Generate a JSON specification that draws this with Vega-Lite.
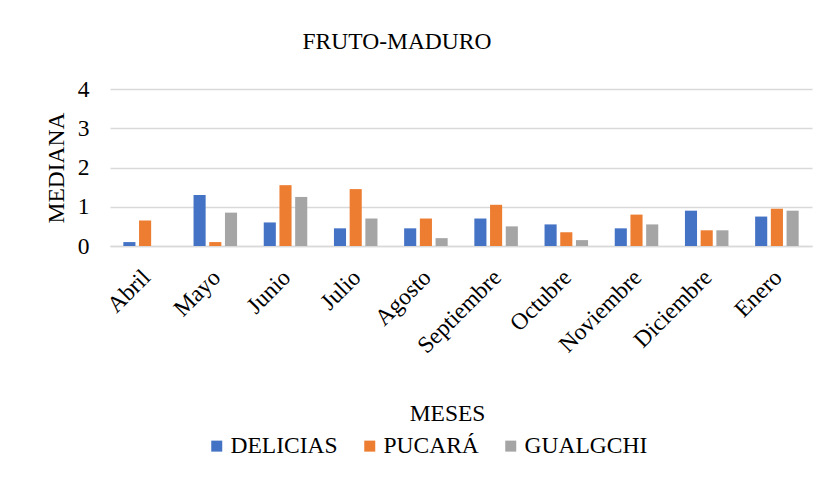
{
  "$schema": "https://vega.github.io/schema/vega-lite/v6.json",
  "autosize": {"type": "none"},
  "padding": {"left": 110, "top": 89, "right": 20, "bottom": 233},
  "width": 702,
  "height": 157,
  "background": "white",
  "title": {
    "text": "FRUTO-MADURO",
    "font": "Liberation Serif",
    "fontSize": 23.5,
    "fontWeight": "normal",
    "color": "#000000",
    "anchor": "middle",
    "frame": "group",
    "dx": -64,
    "baseline": "alphabetic",
    "offset": 5
  },
  "data": {
    "values": [
      {"Mes": "Abril", "Sitio": "DELICIAS", "Mediana": 0.1},
      {"Mes": "Abril", "Sitio": "PUCARÁ", "Mediana": 0.65},
      {"Mes": "Abril", "Sitio": "GUALGCHI", "Mediana": 0},
      {"Mes": "Mayo", "Sitio": "DELICIAS", "Mediana": 1.3},
      {"Mes": "Mayo", "Sitio": "PUCARÁ", "Mediana": 0.1},
      {"Mes": "Mayo", "Sitio": "GUALGCHI", "Mediana": 0.85},
      {"Mes": "Junio", "Sitio": "DELICIAS", "Mediana": 0.6},
      {"Mes": "Junio", "Sitio": "PUCARÁ", "Mediana": 1.55},
      {"Mes": "Junio", "Sitio": "GUALGCHI", "Mediana": 1.25},
      {"Mes": "Julio", "Sitio": "DELICIAS", "Mediana": 0.45},
      {"Mes": "Julio", "Sitio": "PUCARÁ", "Mediana": 1.45},
      {"Mes": "Julio", "Sitio": "GUALGCHI", "Mediana": 0.7},
      {"Mes": "Agosto", "Sitio": "DELICIAS", "Mediana": 0.45},
      {"Mes": "Agosto", "Sitio": "PUCARÁ", "Mediana": 0.7},
      {"Mes": "Agosto", "Sitio": "GUALGCHI", "Mediana": 0.2},
      {"Mes": "Septiembre", "Sitio": "DELICIAS", "Mediana": 0.7},
      {"Mes": "Septiembre", "Sitio": "PUCARÁ", "Mediana": 1.05},
      {"Mes": "Septiembre", "Sitio": "GUALGCHI", "Mediana": 0.5},
      {"Mes": "Octubre", "Sitio": "DELICIAS", "Mediana": 0.55},
      {"Mes": "Octubre", "Sitio": "PUCARÁ", "Mediana": 0.35},
      {"Mes": "Octubre", "Sitio": "GUALGCHI", "Mediana": 0.15},
      {"Mes": "Noviembre", "Sitio": "DELICIAS", "Mediana": 0.45},
      {"Mes": "Noviembre", "Sitio": "PUCARÁ", "Mediana": 0.8},
      {"Mes": "Noviembre", "Sitio": "GUALGCHI", "Mediana": 0.55},
      {"Mes": "Diciembre", "Sitio": "DELICIAS", "Mediana": 0.9},
      {"Mes": "Diciembre", "Sitio": "PUCARÁ", "Mediana": 0.4},
      {"Mes": "Diciembre", "Sitio": "GUALGCHI", "Mediana": 0.4},
      {"Mes": "Enero", "Sitio": "DELICIAS", "Mediana": 0.75},
      {"Mes": "Enero", "Sitio": "PUCARÁ", "Mediana": 0.95},
      {"Mes": "Enero", "Sitio": "GUALGCHI", "Mediana": 0.9}
    ]
  },
  "mark": {"type": "bar"},
  "encoding": {
    "x": {
      "field": "Mes",
      "type": "nominal",
      "sort": ["Abril", "Mayo", "Junio", "Julio", "Agosto", "Septiembre", "Octubre", "Noviembre", "Diciembre", "Enero"],
      "scale": {"paddingInner": 0.38, "paddingOuter": 0.19},
      "axis": {
        "title": "MESES",
        "titleFont": "Liberation Serif",
        "titleFontSize": 23.5,
        "titleFontWeight": "normal",
        "titleColor": "#000000",
        "titleX": 337,
        "titleY": 167,
        "titleBaseline": "middle",
        "titleAlign": "center",
        "labelAngle": -45,
        "labelAlign": "right",
        "labelBaseline": "top",
        "labelPadding": 19,
        "labelOffset": -7,
        "labelFont": "Liberation Serif",
        "labelFontSize": 23.5,
        "labelColor": "#000000",
        "ticks": false,
        "domain": true,
        "domainColor": "#D9D9D9",
        "domainWidth": 1.3,
        "grid": false
      }
    },
    "xOffset": {
      "field": "Sitio",
      "type": "nominal",
      "sort": ["DELICIAS", "PUCARÁ", "GUALGCHI"],
      "scale": {"paddingInner": 0.23, "paddingOuter": 0}
    },
    "y": {
      "field": "Mediana",
      "type": "quantitative",
      "scale": {"domain": [0, 4], "nice": false},
      "axis": {
        "title": "MEDIANA",
        "titleFont": "Liberation Serif",
        "titleFontSize": 23.5,
        "titleFontWeight": "normal",
        "titleColor": "#000000",
        "titleAngle": -90,
        "titleX": -54,
        "titleY": 78.5,
        "titleAlign": "center",
        "titleBaseline": "middle",
        "values": [0, 1, 2, 3, 4],
        "labelFont": "Liberation Serif",
        "labelFontSize": 23.5,
        "labelColor": "#000000",
        "labelPadding": 21,
        "ticks": false,
        "domain": false,
        "grid": true,
        "gridColor": "#D9D9D9",
        "gridWidth": 1.3
      }
    },
    "color": {
      "field": "Sitio",
      "type": "nominal",
      "sort": ["DELICIAS", "PUCARÁ", "GUALGCHI"],
      "scale": {"domain": ["DELICIAS", "PUCARÁ", "GUALGCHI"], "range": ["#4472C4", "#ED7D31", "#A5A5A5"]},
      "legend": {
        "title": null,
        "orient": "none",
        "direction": "horizontal",
        "legendX": 95,
        "legendY": 345,
        "symbolType": "square",
        "symbolSize": 121,
        "symbolStrokeWidth": 0,
        "labelFont": "Liberation Serif",
        "labelFontSize": 23.5,
        "labelColor": "#000000",
        "labelOffset": 2,
        "columnPadding": 20
      }
    }
  },
  "config": {
    "view": {"stroke": null}
  }
}
